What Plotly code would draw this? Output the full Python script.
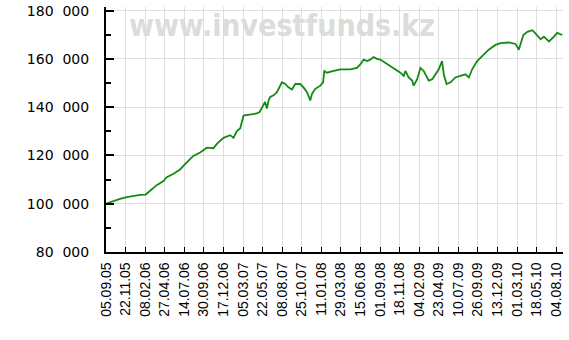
import pandas as pd
import plotly.graph_objects as go

dates = [
    "2005-09-05", "2005-10-04", "2005-10-31", "2005-11-27", "2005-12-23", "2006-01-19",
    "2006-02-10", "2006-02-28", "2006-03-26", "2006-04-22", "2006-05-05", "2006-06-01",
    "2006-06-27", "2006-07-24", "2006-08-19", "2006-09-15", "2006-10-12", "2006-11-07",
    "2006-11-21", "2006-12-17", "2007-01-13", "2007-01-26", "2007-02-08", "2007-02-22",
    "2007-03-02", "2007-03-07", "2007-04-29", "2007-05-10", "2007-05-19", "2007-06-01",
    "2007-06-08", "2007-06-15", "2007-06-21", "2007-07-05", "2007-07-18", "2007-08-07",
    "2007-08-20", "2007-09-02", "2007-09-16", "2007-09-29", "2007-10-19", "2007-11-01",
    "2007-11-15", "2007-11-28", "2007-12-05", "2007-12-18", "2008-01-07", "2008-01-18",
    "2008-01-23", "2008-02-03", "2008-02-29", "2008-03-27", "2008-05-06", "2008-06-01",
    "2008-06-14", "2008-06-28", "2008-07-11", "2008-07-24", "2008-08-06", "2008-08-20",
    "2008-09-02", "2008-09-22", "2008-10-12", "2008-11-01", "2008-11-21", "2008-12-04",
    "2008-12-11", "2008-12-24", "2009-01-07", "2009-01-13", "2009-01-27", "2009-02-09",
    "2009-02-22", "2009-03-01", "2009-03-14", "2009-03-28", "2009-04-10", "2009-04-23",
    "2009-05-06", "2009-05-13", "2009-05-24", "2009-06-09", "2009-06-28", "2009-07-18",
    "2009-08-07", "2009-08-21", "2009-09-03", "2009-09-23", "2009-10-13", "2009-11-08",
    "2009-12-05", "2009-12-25", "2010-01-27", "2010-02-23", "2010-03-08", "2010-03-26",
    "2010-04-11", "2010-05-01", "2010-05-14", "2010-06-03", "2010-06-16", "2010-07-06",
    "2010-07-26", "2010-08-08", "2010-08-28",
]
values = [
    100000, 101200, 102000, 102700, 103200, 103700,
    103800, 105400, 107700, 109400, 111000, 112400,
    114200, 117100, 119800, 121200, 123200, 123000,
    124800, 127300, 128400, 127300, 130000, 131300,
    134500, 136500, 137400, 138000, 139700, 142200,
    139400, 142800, 144200, 144900, 146200, 150300,
    149600, 148200, 147300, 149600, 149600, 148200,
    146200, 142800, 145600, 147600, 148900, 150300,
    155000, 154300, 155000, 155700, 155700, 156300,
    157700, 159700, 159100, 159700, 160800, 160000,
    159700, 158400, 157000, 155700, 154300, 153000,
    155000, 152300, 151000, 148900, 151600, 156300,
    155000, 153600, 151000, 151600, 153600, 155700,
    159100, 153600, 149600, 150300, 152300, 153000,
    153600, 152300, 155700, 159100, 161100, 163800,
    165800, 166500, 166800, 166200, 163800, 169900,
    171200, 171900, 170500, 168100, 169200, 167200,
    169200, 170800, 169900,
]

x_tick_labels = [
    "05.09.05", "22.11.05", "08.02.06", "27.04.06", "14.07.06", "30.09.06",
    "17.12.06", "05.03.07", "22.05.07", "08.08.07", "25.10.07", "11.01.08",
    "29.03.08", "15.06.08", "01.09.08", "18.11.08", "04.02.09", "23.04.09",
    "10.07.09", "26.09.09", "13.12.09", "01.03.10", "18.05.10", "04.08.10",
]
y_tick_values = [80000, 100000, 120000, 140000, 160000, 180000]
y_tick_labels = ["80\u00a0\u00a0000", "100\u00a0\u00a0000", "120\u00a0\u00a0000",
                 "140\u00a0\u00a0000", "160\u00a0\u00a0000", "180\u00a0\u00a0000"]
y_minor_values = [90000, 110000, 130000, 150000, 170000]
watermark = "www.investfunds.kz"

x_tick_vals = [pd.to_datetime(t, format="%d.%m.%y") for t in x_tick_labels]
x = pd.to_datetime(dates)

fig = go.Figure()
fig.add_trace(go.Scatter(
    x=x, y=values, mode="lines",
    line=dict(color="#138a13", width=1.8),
    showlegend=False, hoverinfo="skip",
))

fig.add_annotation(
    text=watermark, xref="paper", yref="paper", x=0.386, y=0.925,
    xanchor="center", yanchor="middle", showarrow=False,
    font=dict(family="DejaVu Sans Condensed, Liberation Sans Narrow, sans-serif",
              size=30, color="#dcdcdc", weight="bold"),
)

fig.update_layout(
    width=569, height=340,
    margin=dict(l=106, r=6, t=3, b=88),
    paper_bgcolor="white", plot_bgcolor="white",
    xaxis=dict(
        type="date",
        range=["2005-09-05", "2010-08-31"],
        tickmode="array", tickvals=x_tick_vals, ticktext=x_tick_labels,
        tickangle=-90,
        ticks="inside", ticklen=5, tickcolor="black", tickwidth=1,
        showgrid=True, gridcolor="#dedede", gridwidth=1,
        showline=True, linecolor="black", linewidth=1.5,
        zeroline=False,
        tickfont=dict(family="Liberation Sans, Arial, sans-serif", size=14, color="black"),
        ticklabelstandoff=3,
        ticklabeloverflow="allow",
    ),
    yaxis=dict(
        range=[80000, 181500],
        tickmode="array", tickvals=y_tick_values, ticktext=y_tick_labels,
        ticks="inside", ticklen=8, tickcolor="black", tickwidth=1.5,
        minor=dict(ticks="inside", ticklen=5, tickmode="array", tickvals=y_minor_values,
                   tickcolor="black", tickwidth=1.5, showgrid=False),
        showgrid=True, gridcolor="#dedede", gridwidth=1,
        showline=True, linecolor="black", linewidth=2,
        zeroline=False,
        tickfont=dict(family="DejaVu Sans, Verdana, sans-serif", size=14, color="black"),
        ticklabelstandoff=12,
        ticklabeloverflow="allow",
    ),
)

fig.write_html("out.html")
